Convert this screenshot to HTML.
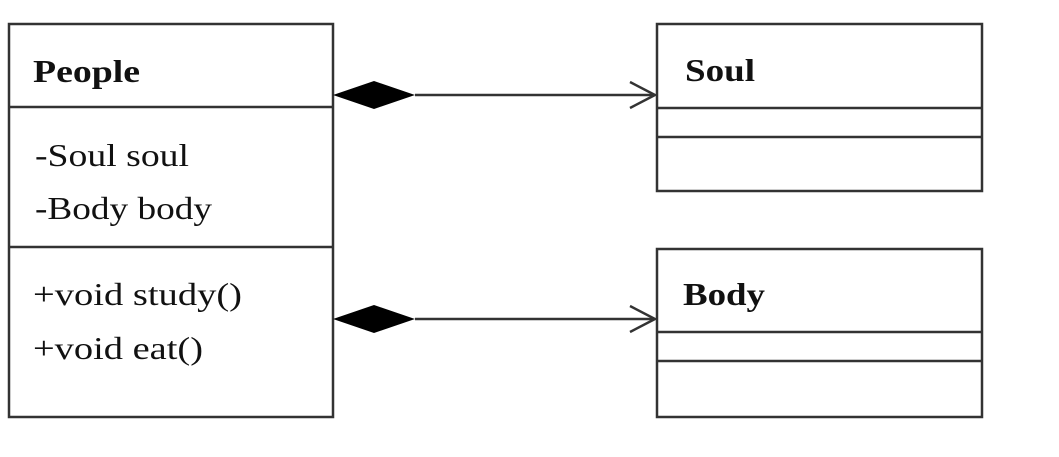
<!DOCTYPE html>
<html><head><meta charset="utf-8"><style>
html,body{margin:0;padding:0;background:#fff;width:1059px;height:457px;overflow:hidden}
svg text{font-family:"Liberation Serif",serif;fill:#111}
</style></head><body>
<svg width="1059" height="457" viewBox="0 0 1059 457" xmlns="http://www.w3.org/2000/svg">
<g stroke="#333" stroke-width="2.5" fill="none">
<rect x="9" y="24" width="324" height="393"/>
<line x1="9" y1="107" x2="333" y2="107"/>
<line x1="9" y1="247" x2="333" y2="247"/>
<rect x="657" y="24" width="325" height="167"/>
<line x1="657" y1="108" x2="982" y2="108"/>
<line x1="657" y1="137" x2="982" y2="137"/>
<rect x="657" y="249" width="325" height="168"/>
<line x1="657" y1="332" x2="982" y2="332"/>
<line x1="657" y1="361" x2="982" y2="361"/>
<line x1="415" y1="95" x2="655" y2="95"/>
<line x1="415" y1="319" x2="655" y2="319"/>
<polyline points="630,82 655,95 630,108"/>
<polyline points="630,306 655,319 630,332"/>
</g>
<polygon points="333,95 374,81 415,95 374,109" fill="#000"/>
<polygon points="333,319 374,305 415,319 374,333" fill="#000"/>
<text x="33" y="82" font-size="32" font-weight="bold" textLength="107" lengthAdjust="spacingAndGlyphs">People</text>
<text x="35" y="166" font-size="32" textLength="154" lengthAdjust="spacingAndGlyphs">-Soul soul</text>
<text x="35" y="219" font-size="32" textLength="177" lengthAdjust="spacingAndGlyphs">-Body body</text>
<text x="33" y="305" font-size="32" textLength="209" lengthAdjust="spacingAndGlyphs">+void study()</text>
<text x="33" y="359" font-size="32" textLength="170" lengthAdjust="spacingAndGlyphs">+void eat()</text>
<text x="685" y="81" font-size="32" font-weight="bold" textLength="70" lengthAdjust="spacingAndGlyphs">Soul</text>
<text x="683" y="305" font-size="32" font-weight="bold" textLength="82" lengthAdjust="spacingAndGlyphs">Body</text>
</svg>
</body></html>
